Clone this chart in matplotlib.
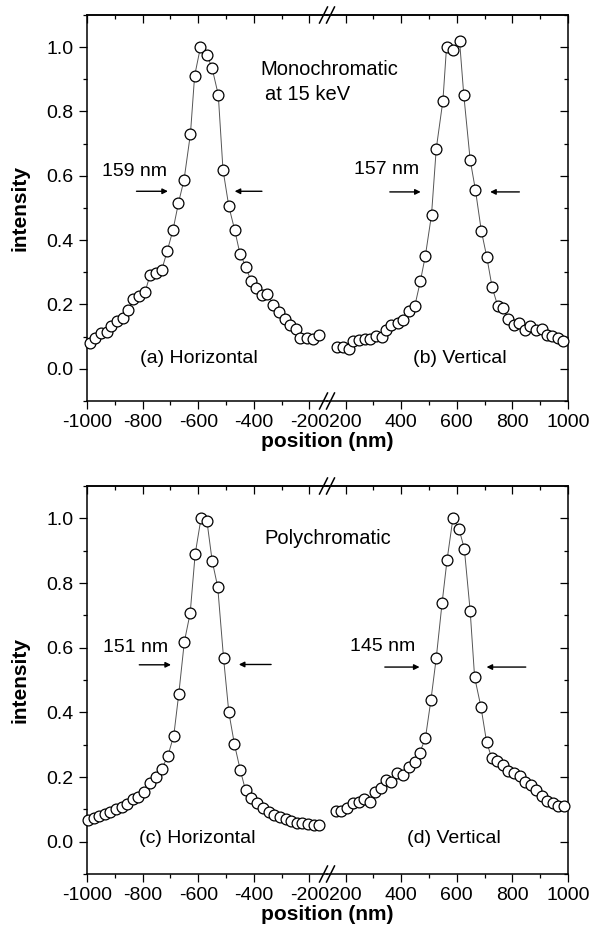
import matplotlib
matplotlib.use("Agg")
import matplotlib.pyplot as plt
from matplotlib.lines import Line2D
from matplotlib.ticker import MultipleLocator, FormatStrFormatter

plt.rcParams['font.family'] = ['Liberation Sans', 'DejaVu Sans']
plt.rcParams['axes.unicode_minus'] = False

# (a) monochromatic, horizontal scan
pos_a = [-990, -972, -950, -929, -912, -893, -872, -852, -833, -812, -791, -773,
         -751, -731, -712, -691, -671, -651, -628, -613, -592, -568, -550, -528,
         -511, -490, -469, -450, -429, -410, -391, -369, -351, -330, -309, -288,
         -269, -248, -233, -208, -188, -166]
int_a = [0.080, 0.095, 0.111, 0.116, 0.134, 0.150, 0.158, 0.184, 0.217, 0.225, 0.240, 0.292,
         0.298, 0.308, 0.365, 0.431, 0.516, 0.588, 0.731, 0.911, 1.000, 0.975, 0.934, 0.852,
         0.619, 0.505, 0.432, 0.358, 0.318, 0.272, 0.251, 0.228, 0.232, 0.199, 0.178, 0.155,
         0.137, 0.123, 0.095, 0.095, 0.092, 0.106]

# (b) monochromatic, vertical scan
pos_b = [168, 190, 211, 228, 248, 270, 288, 308, 330, 347, 365, 387, 407, 428,
         449, 469, 487, 509, 526, 550, 563, 588, 610, 625, 648, 667, 688, 708,
         727, 747, 765, 785, 804, 825, 845, 864, 884, 905, 924, 944, 964, 983]
int_b = [0.067, 0.067, 0.061, 0.085, 0.090, 0.092, 0.092, 0.103, 0.100, 0.121, 0.137, 0.142, 0.152, 0.180,
         0.196, 0.273, 0.352, 0.479, 0.684, 0.834, 1.000, 0.992, 1.018, 0.852, 0.650, 0.556, 0.430, 0.347,
         0.254, 0.196, 0.189, 0.155, 0.135, 0.144, 0.121, 0.132, 0.121, 0.123, 0.106, 0.103, 0.095, 0.087]

# (c) polychromatic, horizontal scan
pos_c = [-998, -976, -956, -935, -916, -896, -875, -856, -836, -815, -794, -772,
         -752, -731, -709, -688, -670, -650, -629, -611, -590, -569, -550, -530,
         -509, -490, -470, -449, -430, -410, -389, -367, -347, -326, -305, -286,
         -266, -245, -226, -205, -185, -166]
int_c = [0.067, 0.072, 0.080, 0.086, 0.093, 0.100, 0.108, 0.117, 0.131, 0.139, 0.155, 0.181,
         0.199, 0.225, 0.266, 0.328, 0.457, 0.618, 0.707, 0.890, 1.000, 0.993, 0.869, 0.788,
         0.568, 0.400, 0.302, 0.222, 0.159, 0.136, 0.119, 0.103, 0.093, 0.083, 0.076, 0.069,
         0.064, 0.059, 0.057, 0.055, 0.052, 0.052]

# (d) polychromatic, vertical scan
pos_d = [164, 185, 206, 228, 248, 266, 287, 307, 328, 347, 365, 385, 405, 427,
         448, 466, 487, 507, 526, 547, 565, 586, 608, 627, 648, 664, 687, 707,
         725, 745, 765, 785, 805, 827, 847, 866, 886, 906, 925, 945, 965, 984]
int_d = [0.096, 0.096, 0.103, 0.119, 0.124, 0.131, 0.124, 0.155, 0.167, 0.191, 0.183, 0.212, 0.206, 0.232,
         0.245, 0.274, 0.320, 0.439, 0.568, 0.738, 0.872, 1.000, 0.967, 0.906, 0.714, 0.509, 0.416, 0.309,
         0.260, 0.250, 0.236, 0.220, 0.212, 0.203, 0.183, 0.176, 0.160, 0.141, 0.126, 0.119, 0.111, 0.111]

W, H = 591, 938
fig = plt.figure(figsize=(W / 100, H / 100), dpi=100)

x_left, x_break, x_right = 87, 327, 568
left_lim = (-1000, -137)
right_lim = (133, 1000)
FS = 14


def style_axis(ax, side):
    ax.set_ylim(-0.1, 1.1)
    ax.yaxis.set_major_locator(MultipleLocator(0.2))
    ax.yaxis.set_minor_locator(MultipleLocator(0.1))
    ax.xaxis.set_major_locator(MultipleLocator(200))
    ax.xaxis.set_minor_locator(MultipleLocator(100))
    ax.yaxis.set_major_formatter(FormatStrFormatter('%.1f'))
    ax.tick_params(axis='x', which='both', direction='out', top=False, labelsize=FS, width=0.9)
    ax.tick_params(axis='x', which='major', length=6)
    ax.tick_params(axis='x', which='minor', length=3)
    for s in ax.spines.values():
        s.set_linewidth(1.1)
    top = ax.secondary_xaxis('top')
    top.xaxis.set_major_locator(MultipleLocator(200))
    top.xaxis.set_minor_locator(MultipleLocator(100))
    top.tick_params(which='both', direction='in', labeltop=False, width=0.9)
    top.tick_params(which='major', length=6)
    top.tick_params(which='minor', length=3)
    top.spines['top'].set_linewidth(1.1)
    if side == 'left':
        ax.set_xlim(*left_lim)
        ax.spines['right'].set_visible(False)
        ax.tick_params(axis='y', which='both', direction='out', right=False, labelsize=FS, width=0.9)
        ax.tick_params(axis='y', which='major', length=6)
        ax.tick_params(axis='y', which='minor', length=3)
    else:
        ax.set_xlim(*right_lim)
        ax.spines['left'].set_visible(False)
        ax.patch.set_visible(False)
        ax.tick_params(axis='y', which='both', direction='in', left=False, right=True,
                       labelleft=False, width=0.9)
        ax.tick_params(axis='y', which='major', length=6)
        ax.tick_params(axis='y', which='minor', length=3)


def draw(ax, xs, ys):
    ax.plot(xs, ys, '-', color='#555555', lw=0.7, zorder=2)
    ax.plot(xs, ys, 'o', ms=7.8, mfc='white', mec='black', mew=0.9, zorder=3, clip_on=False)


def arrow(ax, x0, x1, y):
    ax.annotate('', xy=(x1, y), xytext=(x0, y),
                arrowprops=dict(arrowstyle='-|>', color='black', lw=1.0,
                                mutation_scale=8, shrinkA=0, shrinkB=0))


def break_marks(top_px, bottom_px):
    for ypx in (top_px, bottom_px):
        for off in (-3.5, 3.5):
            xa = (x_break + off - 4) / W
            xb = (x_break + off + 4) / W
            ya = 1 - (ypx + 8) / H
            yb = 1 - (ypx - 8) / H
            fig.add_artist(Line2D([xa, xb], [ya, yb], transform=fig.transFigure,
                                  color='black', lw=1.1))


panels = [
    (15, 401, (pos_a, int_a), (pos_b, int_b)),
    (486, 874, (pos_c, int_c), (pos_d, int_d)),
]
axes = []
for top_px, bot_px, left_data, right_data in panels:
    b = 1 - bot_px / H
    h = (bot_px - top_px) / H
    axL = fig.add_axes([x_left / W, b, (x_break - x_left) / W, h])
    axR = fig.add_axes([x_break / W, b, (x_right - x_break) / W, h])
    style_axis(axL, 'left')
    style_axis(axR, 'right')
    draw(axL, *left_data)
    draw(axR, *right_data)
    break_marks(top_px, bot_px)
    fig.text(20 / W, 1 - (top_px + bot_px) / 2 / H, 'intensity', rotation=90,
             ha='center', va='center', fontsize=15, fontweight='bold')
    fig.text((x_left + x_right) / 2 / W, 1 - (bot_px + 40) / H, 'position (nm)',
             ha='center', va='center', fontsize=15, fontweight='bold')
    axes.append((axL, axR))

(a1, b1), (c1, d1) = axes

# top panel annotations
a1.text(-375, 0.93, 'Monochromatic', fontsize=FS + 0.5, va='center', ha='left', clip_on=False, zorder=5)
a1.text(-361, 0.852, 'at 15 keV', fontsize=FS + 0.5, va='center', ha='left', clip_on=False, zorder=5)
a1.text(-828, 0.612, '159 nm', fontsize=FS, va='center', ha='center')
arrow(a1, -822, -709, 0.552)
arrow(a1, -371, -469, 0.552)
b1.text(347, 0.619, '157 nm', fontsize=FS, va='center', ha='center')
arrow(b1, 359, 470, 0.55)
arrow(b1, 825, 720, 0.55)
a1.text(-596, 0.033, '(a) Horizontal', fontsize=FS, va='center', ha='center')
b1.text(612, 0.033, '(b) Vertical', fontsize=FS, va='center', ha='center')

# bottom panel annotations
c1.text(-362, 0.939, 'Polychromatic', fontsize=FS + 0.5, va='center', ha='left', clip_on=False, zorder=5)
c1.text(-827, 0.60, '151 nm', fontsize=FS, va='center', ha='center')
arrow(c1, -812, -698, 0.547)
arrow(c1, -338, -454, 0.548)
d1.text(334, 0.604, '145 nm', fontsize=FS, va='center', ha='center')
arrow(d1, 341, 466, 0.54)
arrow(d1, 848, 707, 0.54)
c1.text(-604, 0.01, '(c) Horizontal', fontsize=FS, va='center', ha='center')
d1.text(590, 0.01, '(d) Vertical', fontsize=FS, va='center', ha='center')

fig.savefig('out.png', dpi=100)
